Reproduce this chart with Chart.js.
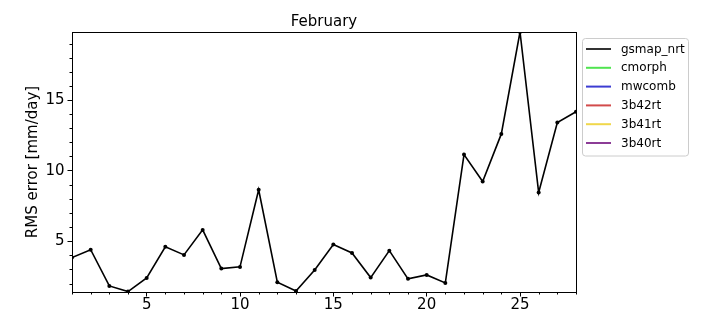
<!DOCTYPE html>
<html>
<head>
<meta charset="utf-8">
<script src="https://cdn.jsdelivr.net/npm/chart.js@4/dist/chart.umd.min.js"></script>
<style>
  html, body { margin: 0; padding: 0; background: #fff; }
  #wrap { width: 720px; height: 324px; position: relative; }
</style>
</head>
<body>
<div id="wrap"><canvas id="c" width="720" height="324"></canvas></div>
<script>
// ---- data ----
const chartTitle = "February";
const yAxisLabel = "RMS error [mm/day]";
const days = [1,2,3,4,5,6,7,8,9,10,11,12,13,14,15,16,17,18,19,20,21,22,23,24,25,26,27,28];
const gsmap_nrt = [3.84,4.40,1.83,1.43,2.40,4.60,4.03,5.80,3.06,3.18,8.64,2.09,1.47,2.96,4.76,4.17,2.42,4.33,2.33,2.61,2.04,11.14,9.23,12.60,19.82,8.45,13.41,14.17];
const cmorph = [];   // no values drawn in the reference
const mwcomb = [];
const b42rt = [];
const b41rt = [];
const b40rt = [];
const seriesNames = ["gsmap_nrt","cmorph","mwcomb","3b42rt","3b41rt","3b40rt"];
const seriesColors = ["#000000","#24dd24","#0b0bc7","#c71e1e","#eccd1e","#6f0b7c"];
const xTicks = [5,10,15,20,25];
const yTicks = [5,10,15];
const xRange = [1,28];
const yRange = [1.40,19.82];

const seriesData = [gsmap_nrt, cmorph, mwcomb, b42rt, b41rt, b40rt];
const datasets = seriesNames.map((name, i) => ({
  label: name,
  data: seriesData[i].map((v, k) => ({x: days[k], y: v})),
  borderColor: seriesColors[i],
  backgroundColor: seriesColors[i],
  borderWidth: 1.6,
  pointRadius: 2,
  pointHoverRadius: 2,
  pointBackgroundColor: seriesColors[i],
  pointBorderWidth: 0,
  tension: 0,
  fill: false
}));

const FONT = "'DejaVu Sans', sans-serif";

const framePlugin = {
  id: 'frame',
  afterDraw(chart) {
    const ctx = chart.ctx;
    const a = chart.chartArea;
    ctx.save();
    // spines
    ctx.strokeStyle = '#000';
    ctx.lineWidth = 1;
    ctx.strokeRect(Math.round(a.left) + 0.5, Math.round(a.top) + 0.5,
                   Math.round(a.right - a.left), Math.round(a.bottom - a.top));
    // minor ticks
    const xs = chart.scales.x, ys = chart.scales.y;
    ctx.beginPath();
    for (let v = Math.ceil(xs.min); v <= xs.max; v++) {
      if (xTicks.includes(v)) continue;
      const px = Math.round(xs.getPixelForValue(v)) + 0.5;
      ctx.moveTo(px, a.bottom); ctx.lineTo(px, a.bottom + 2.5);
    }
    for (let v = Math.ceil(ys.min); v <= ys.max; v++) {
      if (yTicks.includes(v)) continue;
      const py = Math.round(ys.getPixelForValue(v)) + 0.5;
      ctx.moveTo(a.left, py); ctx.lineTo(a.left - 2.5, py);
    }
    ctx.stroke();
    // title
    ctx.fillStyle = '#000';
    ctx.font = "15px " + FONT;
    ctx.textAlign = 'center';
    ctx.textBaseline = 'alphabetic';
    ctx.fillText(chartTitle, (a.left + a.right) / 2, 26);
    // legend
    const bx = 582.5, by = 38.5, bw = 106, bh = 117.5, r = 3;
    ctx.beginPath();
    ctx.moveTo(bx + r, by);
    ctx.lineTo(bx + bw - r, by); ctx.arcTo(bx + bw, by, bx + bw, by + r, r);
    ctx.lineTo(bx + bw, by + bh - r); ctx.arcTo(bx + bw, by + bh, bx + bw - r, by + bh, r);
    ctx.lineTo(bx + r, by + bh); ctx.arcTo(bx, by + bh, bx, by + bh - r, r);
    ctx.lineTo(bx, by + r); ctx.arcTo(bx, by, bx + r, by, r);
    ctx.closePath();
    ctx.fillStyle = 'rgba(255,255,255,0.8)';
    ctx.fill();
    ctx.strokeStyle = '#cccccc';
    ctx.stroke();
    ctx.font = "12px " + FONT;
    ctx.textAlign = 'left';
    ctx.textBaseline = 'middle';
    chart.data.datasets.forEach((ds, i) => {
      const y = 49 + i * 18.8;
      ctx.save();
      ctx.globalAlpha = 0.8;
      ctx.strokeStyle = ds.borderColor;
      ctx.lineWidth = 2;
      ctx.beginPath();
      ctx.moveTo(586, y); ctx.lineTo(611, y);
      ctx.stroke();
      ctx.restore();
      ctx.fillStyle = '#000';
      ctx.fillText(ds.label, 621, y + 0.5);
    });
    ctx.restore();
  }
};

new Chart(document.getElementById('c'), {
  type: 'line',
  data: { datasets },
  options: {
    responsive: false,
    animation: false,
    devicePixelRatio: 1,
    layout: { padding: { top: 32, right: 144, bottom: 0, left: 0 } },
    plugins: { legend: { display: false }, title: { display: false }, tooltip: { enabled: false } },
    scales: {
      x: {
        type: 'linear',
        min: xRange[0], max: xRange[1],
        afterBuildTicks: s => { s.ticks = xTicks.map(v => ({value: v})); },
        afterFit: s => { s.height = 32; },
        grid: { drawOnChartArea: false, drawTicks: true, tickLength: 4.5, tickColor: '#000', tickWidth: 1 },
        border: { display: true, color: '#000', width: 1 },
        ticks: { color: '#000', font: { family: FONT, size: 15 }, padding: 0, maxRotation: 0, autoSkip: false }
      },
      y: {
        type: 'linear',
        min: yRange[0], max: yRange[1],
        afterBuildTicks: s => { s.ticks = yTicks.map(v => ({value: v})); },
        afterFit: s => { s.width = 72; },
        grid: { drawOnChartArea: false, drawTicks: true, tickLength: 4.5, tickColor: '#000', tickWidth: 1 },
        border: { display: true, color: '#000', width: 1 },
        ticks: { color: '#000', font: { family: FONT, size: 15 }, padding: 3, autoSkip: false },
        title: { display: true, text: yAxisLabel, color: '#000', font: { family: FONT, size: 15 }, padding: { top: 24, bottom: 0 } }
      }
    }
  },
  plugins: [framePlugin]
});
</script>
</body>
</html>
